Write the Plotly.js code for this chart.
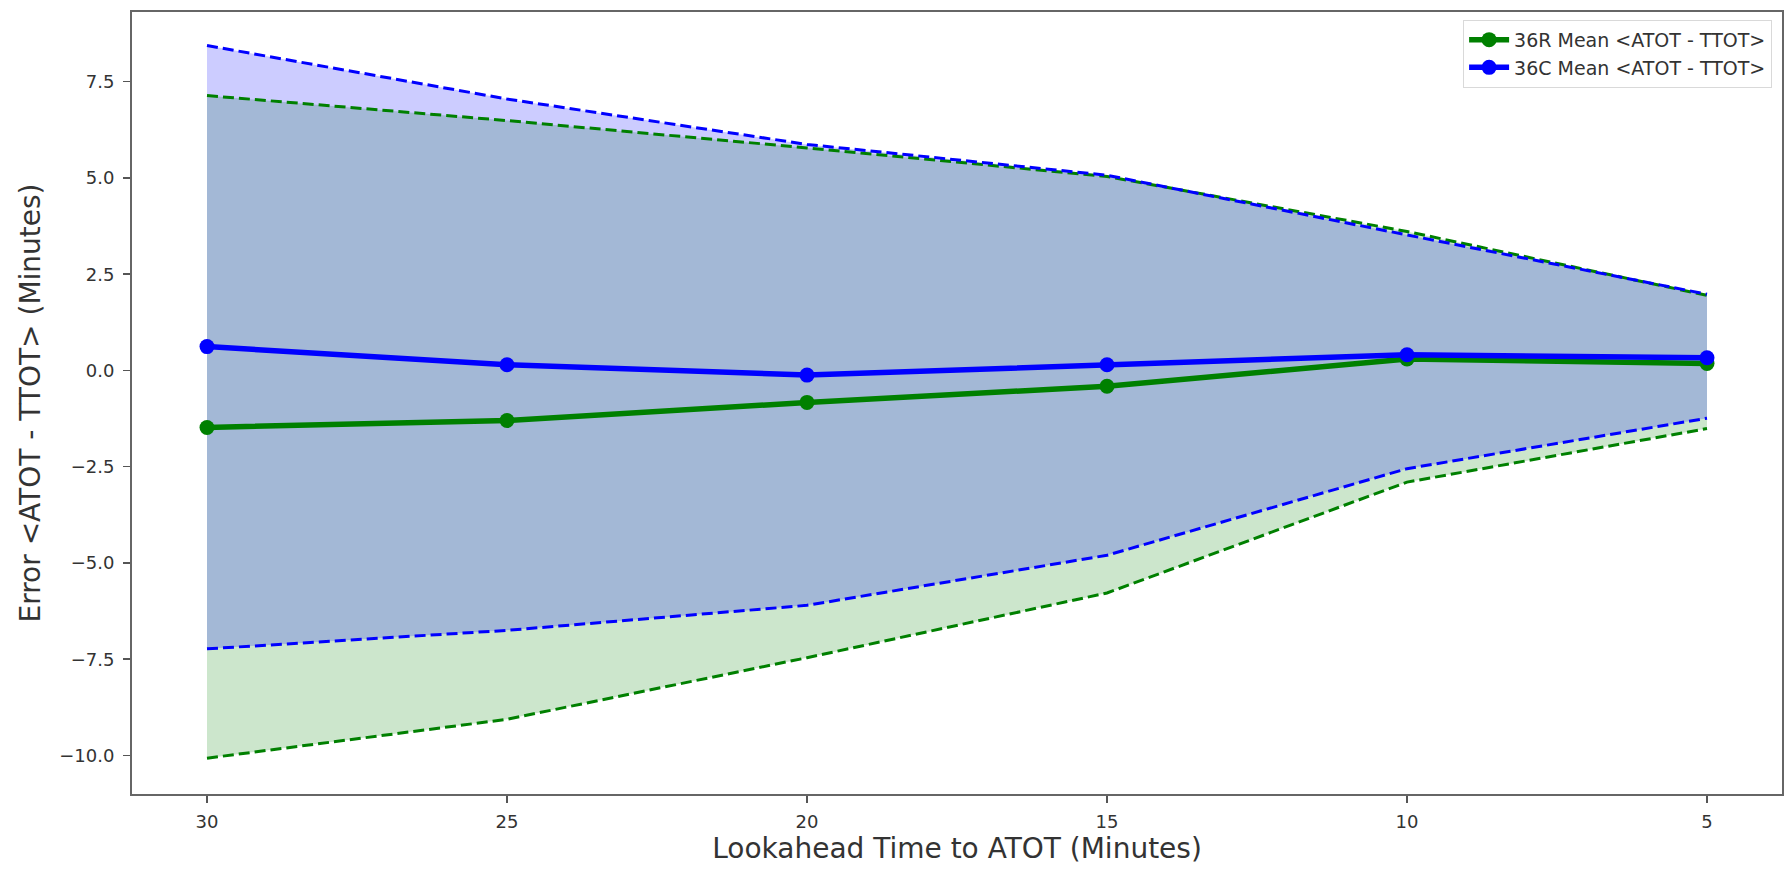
<!DOCTYPE html>
<html>
<head>
<meta charset="utf-8">
<script src="https://cdn.plot.ly/plotly-3.0.1.min.js"></script>
<style>html,body{margin:0;padding:0;background:#fff;}#chart{width:1787px;height:887px;}</style>
</head>
<body>
<div id="chart"></div>
<script>
const lookahead = [30, 25, 20, 15, 10, 5];
const mean36R = [-1.48, -1.30, -0.83, -0.41, 0.30, 0.18];
const upper36R = [7.14, 6.49, 5.78, 5.04, 3.61, 1.95];
const lower36R = [-10.07, -9.06, -7.46, -5.78, -2.90, -1.51];
const mean36C = [0.62, 0.15, -0.12, 0.15, 0.41, 0.33];
const upper36C = [8.44, 7.05, 5.87, 5.07, 3.52, 1.98];
const lower36C = [-7.23, -6.75, -6.10, -4.80, -2.55, -1.24];
const yTicks = [-10, -7.5, -5, -2.5, 0, 2.5, 5, 7.5];
const yTickText = ['\u221210.0', '\u22127.5', '\u22125.0', '\u22122.5', '0.0', '2.5', '5.0', '7.5'];
const xTicks = [30, 25, 20, 15, 10, 5];

const green = 'rgb(0,128,0)';
const blue = 'rgb(0,0,255)';
const dash = '11px,5px';
const FONT = 'DejaVu Sans, sans-serif';
const TXT = '#333';

const traces = [
  // fills
  {x: lookahead, y: lower36R, mode: 'lines', line: {width: 0}, showlegend: false, hoverinfo: 'skip'},
  {x: lookahead, y: upper36R, mode: 'lines', line: {width: 0}, fill: 'tonexty', fillcolor: 'rgba(0,128,0,0.2)', showlegend: false, hoverinfo: 'skip'},
  {x: lookahead, y: lower36C, mode: 'lines', line: {width: 0}, showlegend: false, hoverinfo: 'skip'},
  {x: lookahead, y: upper36C, mode: 'lines', line: {width: 0}, fill: 'tonexty', fillcolor: 'rgba(0,0,255,0.2)', showlegend: false, hoverinfo: 'skip'},
  // dashed bounds
  {x: lookahead, y: upper36R, mode: 'lines', line: {color: green, width: 3, dash: dash}, showlegend: false},
  {x: lookahead, y: lower36R, mode: 'lines', line: {color: green, width: 3, dash: dash}, showlegend: false},
  {x: lookahead, y: upper36C, mode: 'lines', line: {color: blue, width: 3, dash: dash}, showlegend: false},
  {x: lookahead, y: lower36C, mode: 'lines', line: {color: blue, width: 3, dash: dash}, showlegend: false},
  // means
  {x: lookahead, y: mean36R, mode: 'lines+markers', name: '36R Mean &lt;ATOT - TTOT&gt;', legendgroup: 'r', line: {color: green, width: 5.5}, marker: {color: green, size: 15}},
  {x: lookahead, y: mean36C, mode: 'lines+markers', name: '36C Mean &lt;ATOT - TTOT&gt;', legendgroup: 'c', line: {color: blue, width: 5.5}, marker: {color: blue, size: 15}}
];

const layout = {
  width: 1787, height: 887,
  margin: {l: 132, r: 5, t: 12, b: 93},
  paper_bgcolor: '#fff', plot_bgcolor: '#fff',
  font: {family: FONT, color: TXT},
  showlegend: true,
  legend: {
    x: 0.994, y: 0.99, xanchor: 'right', yanchor: 'top',
    traceorder: 'normal', tracegroupgap: 9,
    bgcolor: 'rgba(255,255,255,0.8)', bordercolor: '#d9d9d9', borderwidth: 1,
    font: {size: 19, family: FONT, color: TXT},
    itemwidth: 40
  },
  xaxis: {
    range: [31.25, 3.75],
    tickvals: xTicks, ticktext: xTicks.map(String),
    ticks: 'outside', ticklen: 7, tickwidth: 1.5, tickcolor: '#555',
    ticklabelstandoff: 3,
    showline: true, mirror: true, linecolor: '#666', linewidth: 2,
    showgrid: false, zeroline: false,
    tickfont: {size: 18, family: FONT, color: TXT},
    title: {text: 'Lookahead Time to ATOT (Minutes)', font: {size: 28, family: FONT, color: TXT}, standoff: 6}
  },
  yaxis: {
    range: [-11.0, 9.31],
    tickvals: yTicks, ticktext: yTickText,
    ticks: 'outside', ticklen: 7, tickwidth: 1.5, tickcolor: '#555',
    ticklabelstandoff: 5,
    showline: true, mirror: true, linecolor: '#666', linewidth: 2,
    showgrid: false, zeroline: false,
    tickfont: {size: 18, family: FONT, color: TXT},
    title: {text: 'Error &lt;ATOT - TTOT&gt; (Minutes)', font: {size: 28, family: FONT, color: TXT}, standoff: 10}
  }
};

Plotly.newPlot('chart', traces, layout, {displayModeBar: false, staticPlot: true});
</script>
</body>
</html>
